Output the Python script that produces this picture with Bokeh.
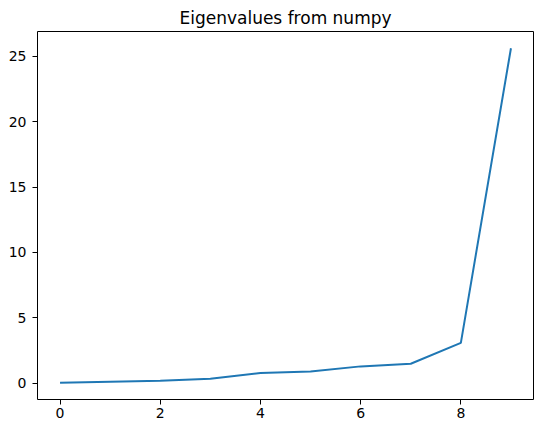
from bokeh.plotting import figure
from bokeh.models import FixedTicker, Range1d
from bokeh.embed import file_html
from bokeh.resources import INLINE

x_vals = [0, 1, 2, 3, 4, 5, 6, 7, 8, 9]
eigenvalues = [0.05, 0.12, 0.2, 0.35, 0.8, 0.9, 1.3, 1.5, 3.1, 25.6]
x_ticks = [0, 2, 4, 6, 8]
y_ticks = [0, 5, 10, 15, 20, 25]
title_text = "Eigenvalues from numpy"

p = figure(frame_width=496, frame_height=368, output_backend="svg", toolbar_location=None,
           title=title_text,
           x_range=Range1d(-0.45, 9.45), y_range=Range1d(-1.23, 26.88),
           min_border_left=37, min_border_right=8, min_border_top=31, min_border_bottom=32)

p.title.align = "center"
p.title.text_font = "DejaVu Sans"
p.title.text_font_size = "17px"
p.title.text_font_style = "normal"
p.title.text_color = "black"
p.title.standoff = 7

p.line(x_vals, eigenvalues, line_color="#1f77b4", line_width=2)

p.xgrid.visible = False
p.ygrid.visible = False
p.outline_line_color = "black"
p.outline_line_width = 1
p.outline_line_alpha = 1

for ax, ticks in ((p.xaxis, x_ticks), (p.yaxis, y_ticks)):
    ax.ticker = FixedTicker(ticks=ticks)
    ax.major_tick_out = 5
    ax.major_tick_in = 0
    ax.minor_tick_line_color = None
    ax.axis_line_color = None
    ax.major_tick_line_color = "black"
    ax.major_label_text_font = "DejaVu Sans"
    ax.major_label_text_font_size = "14px"
    ax.major_label_text_color = "black"

p.yaxis.major_label_standoff = 6
p.xaxis.major_label_standoff = 3

p.background_fill_color = "white"
p.border_fill_color = "white"

open("out.html", "w").write(file_html(p, INLINE))
